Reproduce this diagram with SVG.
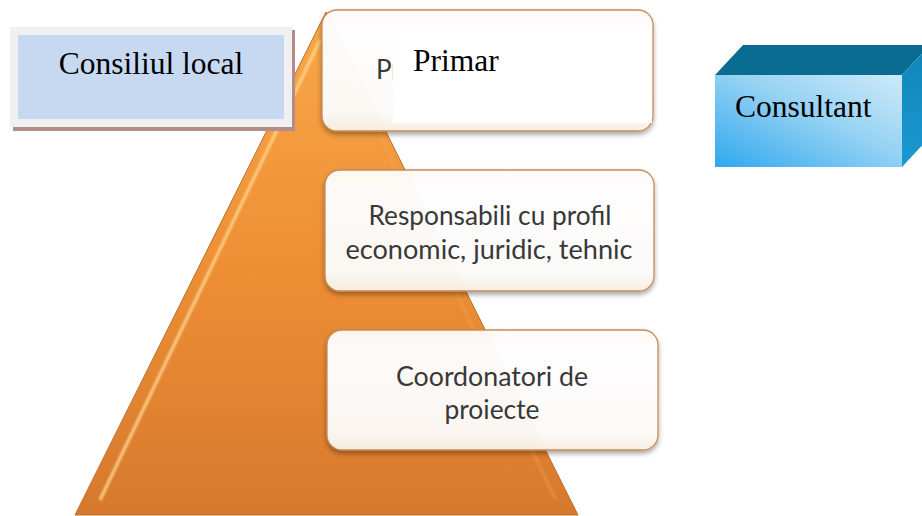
<svg xmlns="http://www.w3.org/2000/svg" width="922" height="516" viewBox="0 0 922 516">
  <style>
    .serif { font-family: "Liberation Serif", "Times New Roman", serif; font-size: 31.5px; fill: #000; }
    .sans { font-family: Lato, "Open Sans", "Liberation Sans", sans-serif; font-size: 26px; fill: #383838; }
    .pbox { fill: url(#boxFill); stroke: #c98a55; stroke-width: 1.3; filter: url(#shadow); }
  </style>
  <defs>
    <linearGradient id="triFill" x1="0" y1="0" x2="0" y2="1">
      <stop offset="0" stop-color="#f8a848"/>
      <stop offset="0.5" stop-color="#ee8f35"/>
      <stop offset="1" stop-color="#d6792d"/>
    </linearGradient>
    <linearGradient id="boxFill" x1="0" y1="0" x2="0" y2="1">
      <stop offset="0" stop-color="#fffaf4" stop-opacity="0.96"/>
      <stop offset="0.15" stop-color="#ffffff" stop-opacity="0.96"/>
      <stop offset="0.85" stop-color="#fdfbf9" stop-opacity="0.96"/>
      <stop offset="1" stop-color="#f8efe2" stop-opacity="0.97"/>
    </linearGradient>
    <linearGradient id="frontFill" x1="0" y1="1" x2="1" y2="0">
      <stop offset="0" stop-color="#2fa8ee"/>
      <stop offset="0.55" stop-color="#95d2f3"/>
      <stop offset="1" stop-color="#cdeaf9"/>
    </linearGradient>
    <linearGradient id="sideFill" x1="0" y1="0" x2="0" y2="1">
      <stop offset="0" stop-color="#1184b8"/>
      <stop offset="1" stop-color="#1a9ad2"/>
    </linearGradient>
    <filter id="shadow" x="-10%" y="-10%" width="120%" height="130%">
      <feDropShadow dx="0" dy="3" stdDeviation="2.5" flood-color="#000" flood-opacity="0.35"/>
    </filter>
    <filter id="blur1" x="-20%" y="-20%" width="140%" height="140%">
      <feGaussianBlur stdDeviation="1.2"/>
    </filter>
  </defs>

  <g id="pyramid">
    <path d="M326,12 L578,515 L75,515 Z" fill="url(#triFill)" stroke="#b8702f" stroke-width="1"/>
    <path d="M320,40 L100,500" stroke="#ffd690" stroke-width="3" fill="none" filter="url(#blur1)" opacity="0.9"/>
    <path d="M334,40 L556,500" stroke="#f6a55a" stroke-width="3" fill="none" filter="url(#blur1)" opacity="0.4"/>
  </g>

  <g id="connectors"></g>

  <g id="node-consiliu">
    <rect x="13" y="30" width="282" height="101" fill="#b28b8b"/>
    <rect x="10" y="27" width="282" height="100" fill="#f0f0f0"/>
    <rect x="18" y="35" width="266" height="84" fill="#c6d9f0"/>
    <text class="serif" x="151" y="74" text-anchor="middle">Consiliul local</text>
  </g>

  <g id="node-primar">
    <rect class="pbox" x="322" y="10" width="331" height="121" rx="15"/>
    <text class="sans" x="376" y="79">Pr</text>
    <rect x="393" y="31" width="259" height="92" fill="#ffffff"/>
    <text class="serif" x="413" y="71">Primar</text>
  </g>

  <g id="node-responsabili">
    <rect class="pbox" x="325" y="170" width="329" height="121" rx="15"/>
    <text class="sans" x="490" y="225" text-anchor="middle" textLength="243" lengthAdjust="spacingAndGlyphs">Responsabili cu profil</text>
    <text class="sans" x="489" y="259" text-anchor="middle" textLength="287" lengthAdjust="spacingAndGlyphs">economic, juridic, tehnic</text>
  </g>

  <g id="node-coordonatori">
    <rect class="pbox" x="327" y="330" width="331" height="120" rx="15"/>
    <text class="sans" x="492" y="386" text-anchor="middle" textLength="192" lengthAdjust="spacingAndGlyphs">Coordonatori de</text>
    <text class="sans" x="492" y="419" text-anchor="middle" textLength="95" lengthAdjust="spacingAndGlyphs">proiecte</text>
  </g>

  <g id="node-consultant">
    <path d="M715,75 L743,45 L930,45 L902,75 Z" fill="#0b6c92"/>
    <path d="M902,75 L930,45 L930,137 L902,167 Z" fill="url(#sideFill)"/>
    <rect x="715" y="75" width="187" height="92" fill="url(#frontFill)"/>
    <text class="serif" x="735" y="117">Consultant</text>
  </g>
</svg>
